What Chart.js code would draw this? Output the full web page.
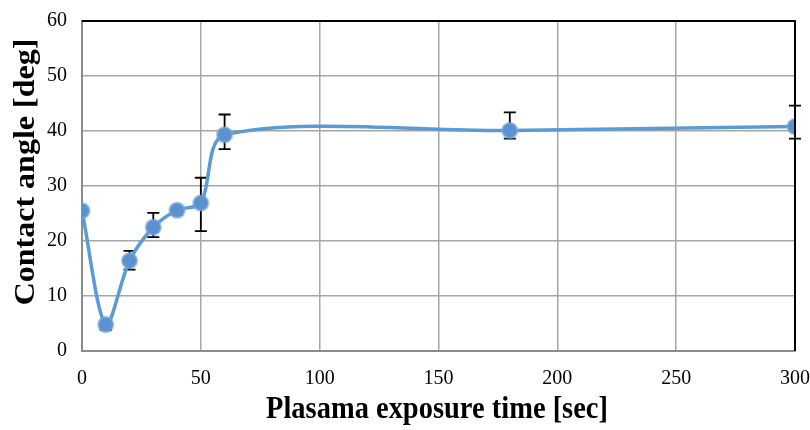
<!DOCTYPE html>
<html>
<head>
<meta charset="utf-8">
<script src="https://cdn.jsdelivr.net/npm/chart.js@4"></script>
<style>
  html, body { margin: 0; padding: 0; background: #fff; }
  #wrap { width: 810px; height: 430px; }
</style>
</head>
<body>
<div id="wrap"><canvas id="angle"></canvas></div>
<script>
// exposure time [sec] and measured contact angle [deg]
var times = [0, 10, 20, 30, 40, 50, 60, 180, 300];
var angles = [25.5, 4.8, 16.4, 22.5, 25.6, 26.9, 39.3, 40.1, 40.8];
var errUp = [0, 0.6, 1.8, 2.6, 0.6, 4.6, 3.7, 3.3, 3.8];
var errDown = [0, 1.0, 1.6, 1.8, 0.8, 5.1, 2.6, 1.5, 2.2];
var xTicks = [0, 50, 100, 150, 200, 250, 300];
var yTicks = [0, 10, 20, 30, 40, 50, 60];
var xTitle = 'Plasama exposure time [sec]';
var yTitle = 'Contact angle [deg]';

var blue = '#5b9bd5';
var serif = "'Liberation Serif', 'Times New Roman', serif";

var points = [];
for (var i = 0; i < times.length; i++) {
	points.push({ x: times[i], y: angles[i] });
}

// vertical error bars with caps, under the line
var errorBars = {
	id: 'errorBars',
	beforeDatasetsDraw: function (chart) {
		var ctx = chart.ctx;
		var xs = chart.scales.x;
		var ys = chart.scales.y;
		ctx.save();
		ctx.strokeStyle = '#000';
		ctx.lineWidth = 1.8;
		for (var i = 0; i < times.length; i++) {
			if (!errUp[i] && !errDown[i]) continue;
			var px = xs.getPixelForValue(times[i]);
			var top = ys.getPixelForValue(angles[i] + errUp[i]);
			var bot = ys.getPixelForValue(angles[i] - errDown[i]);
			ctx.beginPath();
			ctx.moveTo(px, top);
			ctx.lineTo(px, bot);
			ctx.moveTo(px - 6, top);
			ctx.lineTo(px + 6, top);
			ctx.moveTo(px - 6, bot);
			ctx.lineTo(px + 6, bot);
			ctx.stroke();
		}
		ctx.restore();
	}
};

// black frame on top/right, plus narrow bold axis titles
var frame = {
	id: 'frame',
	afterDraw: function (chart) {
		var a = chart.chartArea;
		var ctx = chart.ctx;
		ctx.save();
		ctx.strokeStyle = '#000';
		ctx.lineWidth = 2;
		ctx.beginPath();
		ctx.moveTo(a.left, a.top);
		ctx.lineTo(a.right, a.top);
		ctx.lineTo(a.right, a.bottom);
		ctx.stroke();

		ctx.fillStyle = '#000';
		ctx.font = 'bold 32px ' + serif;
		ctx.textAlign = 'center';
		ctx.textBaseline = 'middle';

		ctx.save();
		ctx.translate(437, 410);
		ctx.scale(0.89, 1);
		ctx.fillText(xTitle, 0, 0);
		ctx.restore();

		ctx.save();
		ctx.translate(27, 172);
		ctx.rotate(-Math.PI / 2);
		ctx.scale(1, 0.89);
		ctx.fillText(yTitle, 0, 0);
		ctx.restore();

		ctx.restore();
	}
};

var ctx = document.getElementById('angle').getContext('2d');
window.AngleChart = new Chart(ctx, {
	type: 'line',
	data: {
		datasets: [{
			label: 'Contact angle',
			data: points,
			borderColor: blue,
			borderWidth: 3.5,
			tension: 0.3,
			pointRadius: 7.5,
			pointBackgroundColor: '#5a92d0',
			pointBorderColor: 'rgba(120,165,215,0.55)',
			pointBorderWidth: 2.5,
			fill: false
		}]
	},
	options: {
		responsive: true,
		maintainAspectRatio: false,
		animation: false,
		layout: { padding: { top: 21, right: 15, left: 0, bottom: 0 } },
		plugins: {
			legend: { display: false },
			tooltip: { enabled: false }
		},
		scales: {
			x: {
				type: 'linear',
				min: 0,
				max: 300,
				afterBuildTicks: function (s) { s.ticks = xTicks.map(function (v) { return { value: v }; }); },
				afterFit: function (s) {
					s.height = 79;
					s.paddingLeft = 0;
					s.paddingRight = 0;
				},
				grid: { color: '#a6a6a6', lineWidth: 1.5, drawTicks: false },
				border: { color: '#8c8c8c', width: 2 },
				ticks: {
					color: '#000',
					padding: 16,
					font: { family: serif, size: 20 }
				}
			},
			y: {
				min: 0,
				max: 60,
				afterBuildTicks: function (s) { s.ticks = yTicks.map(function (v) { return { value: v }; }); },
				afterFit: function (s) {
					s.width = 82;
					s.paddingTop = 0;
					s.paddingBottom = 0;
				},
				grid: { color: '#a6a6a6', lineWidth: 1.5, drawTicks: false },
				border: { color: '#8c8c8c', width: 2 },
				ticks: {
					color: '#000',
					padding: 15,
					font: { family: serif, size: 20 }
				}
			}
		}
	},
	plugins: [errorBars, frame]
});
</script>
</body>
</html>
